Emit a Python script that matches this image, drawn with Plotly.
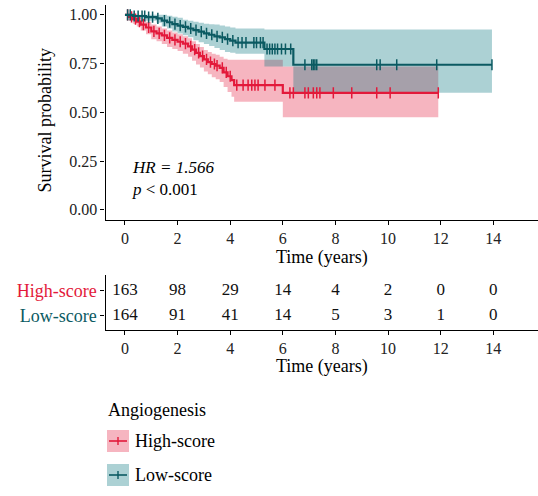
import plotly.graph_objects as go

W, H = 538, 496
FONT = "Liberation Serif"
RED = "#E3193A"
TEAL = "#0B5A62"
RED_FILL = "rgba(227,25,58,0.32)"
TEAL_FILL = "rgba(11,120,130,0.34)"

# ---------------- data ----------------
time_ticks = [0, 2, 4, 6, 8, 10, 12, 14]
high_risk = [163, 98, 29, 14, 4, 2, 0, 0]
low_risk = [164, 91, 41, 14, 5, 3, 1, 0]
groups = ["High-score", "Low-score"]

high_time = [0, 0.15, 0.3, 0.45, 0.6, 0.8, 1.0, 1.2, 1.4, 1.6, 1.8, 2.0, 2.2, 2.4, 2.55, 2.7,
             2.85, 3.0, 3.15, 3.3, 3.45, 3.6, 3.75, 3.9, 4.05, 4.15, 6.0]
high_surv = [1.0, 0.99, 0.978, 0.965, 0.95, 0.935, 0.915, 0.905, 0.895, 0.882, 0.872, 0.862, 0.852,
             0.838, 0.822, 0.805, 0.788, 0.772, 0.758, 0.748, 0.74, 0.728, 0.705, 0.685, 0.665, 0.64, 0.60]
high_upper = [1.0, 1.0, 1.0, 0.99, 0.98, 0.965, 0.95, 0.94, 0.93, 0.92, 0.91, 0.9, 0.89, 0.88,
              0.865, 0.85, 0.835, 0.82, 0.81, 0.8, 0.795, 0.785, 0.775, 0.77, 0.77, 0.77, 0.735]
high_lower = [1.0, 0.97, 0.955, 0.94, 0.92, 0.9, 0.875, 0.865, 0.85, 0.835, 0.825, 0.815, 0.8,
              0.785, 0.765, 0.745, 0.73, 0.71, 0.695, 0.68, 0.67, 0.655, 0.63, 0.605, 0.58, 0.555, 0.475]
high_end = 11.91
high_censor = [0.1, 0.25, 0.4, 0.55, 0.7, 0.9, 1.1, 1.3, 1.5, 1.7, 1.9, 2.1, 2.3, 2.5, 2.65, 2.8,
               2.95, 3.1, 3.25, 3.4, 3.5, 3.7, 3.85, 4.0, 4.25, 4.49, 4.68, 4.82, 4.94, 5.06, 5.32,
               5.70, 6.27, 6.40, 6.84, 6.97, 7.16, 7.29, 7.41, 7.92, 8.62, 9.57, 10.08, 11.91]

low_time = [0, 0.3, 0.8, 1.2, 1.4, 1.6, 1.8, 2.0, 2.2, 2.4, 2.6, 2.8, 3.0, 3.2, 3.4, 3.6, 3.8,
            4.0, 4.2, 5.3, 6.4]
low_surv = [1.0, 0.994, 0.988, 0.982, 0.97, 0.962, 0.952, 0.945, 0.938, 0.93, 0.922, 0.914, 0.905,
            0.898, 0.89, 0.884, 0.876, 0.868, 0.858, 0.825, 0.744]
low_upper = [1.0, 1.0, 1.0, 1.0, 1.0, 0.995, 0.99, 0.985, 0.975, 0.97, 0.965, 0.96, 0.955, 0.952,
             0.95, 0.945, 0.94, 0.935, 0.93, 0.925, 0.925]
low_lower = [1.0, 0.98, 0.97, 0.96, 0.94, 0.93, 0.915, 0.905, 0.895, 0.885, 0.87, 0.86, 0.85,
             0.84, 0.83, 0.82, 0.81, 0.805, 0.8, 0.735, 0.6]
low_end = 13.95
low_censor = [0.1, 0.2, 0.35, 0.5, 0.65, 0.75, 0.9, 1.05, 1.25, 1.5, 1.7, 1.9, 2.1, 2.3, 2.5, 2.7,
              2.9, 3.1, 3.3, 3.5, 3.7, 3.9, 4.1, 4.3, 4.45, 4.6, 4.9, 5.0, 5.15, 5.25, 5.4, 5.5,
              5.6, 5.7, 5.8, 5.95, 6.1, 6.3, 6.84, 7.10, 7.16, 7.22, 7.29, 9.57, 9.70, 10.33,
              11.85, 13.95]


def px_x(p):
    return p / W


def px_y(p):
    return 1 - p / H


def step_value(times, vals, t):
    v = vals[0]
    for ti, vi in zip(times, vals):
        if ti <= t:
            v = vi
    return v


fig = go.Figure()

series = [
    (high_time, high_surv, high_lower, high_upper, high_end, high_censor, RED, RED_FILL),
    (low_time, low_surv, low_lower, low_upper, low_end, low_censor, TEAL, TEAL_FILL),
]

# confidence bands
for t, s, lo, up, end, cen, col, fcol in series:
    tx = t + [end]
    fig.add_trace(go.Scatter(x=tx, y=lo + [lo[-1]], mode="lines", line=dict(width=0, shape="hv"),
                             showlegend=False, hoverinfo="skip", xaxis="x", yaxis="y"))
    fig.add_trace(go.Scatter(x=tx, y=up + [up[-1]], mode="lines", line=dict(width=0, shape="hv"),
                             fill="tonexty", fillcolor=fcol, showlegend=False, hoverinfo="skip",
                             xaxis="x", yaxis="y"))

# survival curves and censor marks
for t, s, lo, up, end, cen, col, fcol in series:
    fig.add_trace(go.Scatter(x=t + [end], y=s + [s[-1]], mode="lines",
                             line=dict(color=col, width=2.2, shape="hv"), showlegend=False,
                             xaxis="x", yaxis="y"))
    fig.add_trace(go.Scatter(x=cen, y=[step_value(t, s, c) for c in cen], mode="markers",
                             marker=dict(symbol="line-ns", size=8, line=dict(width=1.5, color=col)),
                             showlegend=False, xaxis="x", yaxis="y"))

# risk table
for vals, yv in [(high_risk, 2), (low_risk, 1)]:
    fig.add_trace(go.Scatter(x=time_ticks, y=[yv] * len(time_ticks), mode="text",
                             text=[str(v) for v in vals],
                             textfont=dict(family=FONT, size=17, color="#111"),
                             showlegend=False, xaxis="x2", yaxis="y2"))

xr = [-0.74, 15.7]
axis_common = dict(showline=True, linecolor="black", linewidth=1.2, ticks="outside", ticklen=4,
                   tickwidth=1.1, tickcolor="black", showgrid=False, zeroline=False,
                   tickfont=dict(family=FONT, size=16, color="#222"))

fig.update_layout(
    width=W, height=H, margin=dict(l=0, r=0, t=0, b=0),
    paper_bgcolor="white", plot_bgcolor="white", showlegend=False,
    xaxis=dict(domain=[px_x(105.5), 1], range=xr, anchor="y", tickvals=time_ticks, **axis_common),
    yaxis=dict(domain=[px_y(219.6), px_y(5.1)], range=[-0.05, 1.05], anchor="x",
               tickvals=[0, 0.25, 0.5, 0.75, 1.0], tickformat=".2f", **axis_common),
    xaxis2=dict(domain=[px_x(105.5), 1], range=xr, anchor="y2", tickvals=time_ticks, **axis_common),
    yaxis2=dict(domain=[px_y(330), px_y(275)], range=[0.42, 2.62], anchor="x2",
                tickvals=[2, 1],
                ticktext=[f'<span style="color:{RED}">{groups[0]}</span>',
                          f'<span style="color:{TEAL}">{groups[1]}</span>'],
                **{**axis_common, "tickfont": dict(family=FONT, size=18)}),
)


def label(text, x, y, xanchor="center", size=18, angle=0):
    return dict(text=text, x=px_x(x), y=px_y(y), xref="paper", yref="paper",
                xanchor=xanchor, yanchor="middle", textangle=angle, showarrow=False,
                font=dict(family=FONT, size=size, color="black"))


ann = [
    label("Survival probability", 45, 120.5, angle=-90),
    label("Time (years)", 321.5, 257),
    label("Time (years)", 321.5, 366),
    dict(text="<i>HR = 1.566</i><br><i>p</i> &lt; 0.001", x=px_x(130), y=px_y(178.5),
         xref="paper", yref="paper", xanchor="left", yanchor="middle", align="left",
         showarrow=False, font=dict(family=FONT, size=17, color="black")),
    label("Angiogenesis", 106, 410, xanchor="left"),
]
shapes = []
for name, col, fcol, cy in [(groups[0], RED, RED_FILL, 441), (groups[1], TEAL, TEAL_FILL, 475)]:
    shapes.append(dict(type="rect", xref="paper", yref="paper", x0=px_x(107), x1=px_x(129),
                       y0=px_y(cy + 11), y1=px_y(cy - 11), fillcolor=fcol, line=dict(width=0)))
    shapes.append(dict(type="line", xref="paper", yref="paper", x0=px_x(109), x1=px_x(127),
                       y0=px_y(cy), y1=px_y(cy), line=dict(color=col, width=1.6)))
    shapes.append(dict(type="line", xref="paper", yref="paper", x0=px_x(118), x1=px_x(118),
                       y0=px_y(cy - 4), y1=px_y(cy + 4), line=dict(color=col, width=1.4)))
    ann.append(label(name, 133, cy, xanchor="left"))

fig.update_layout(annotations=ann, shapes=shapes)
fig.write_html("out.html")
